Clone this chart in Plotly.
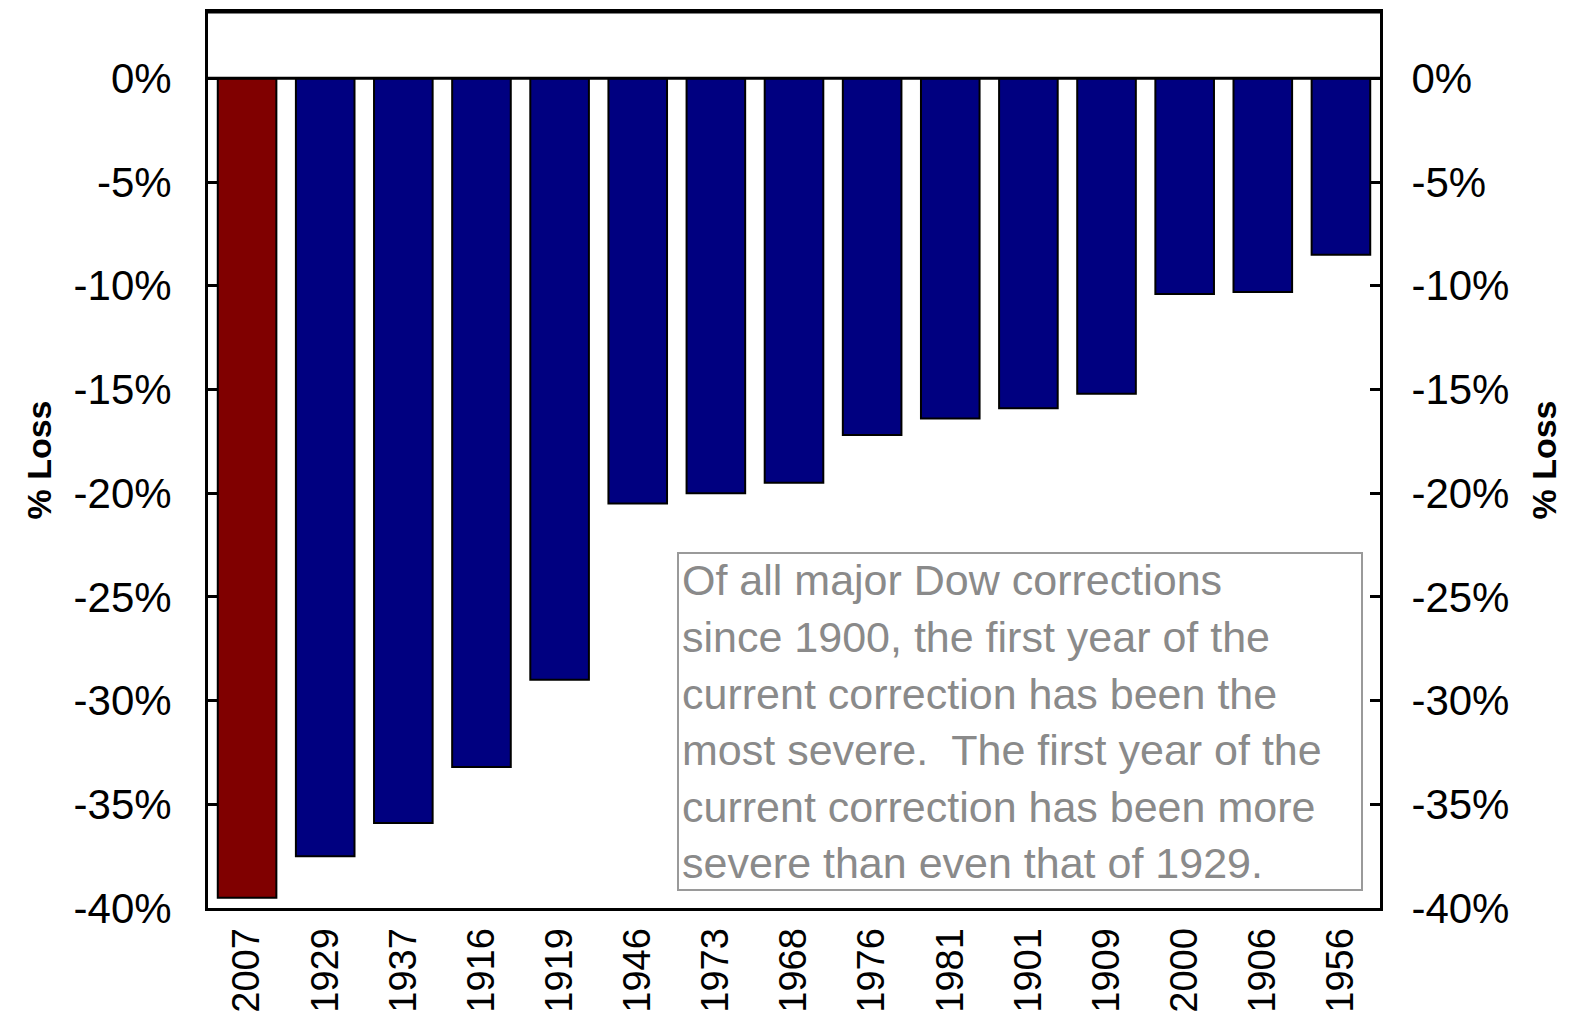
import plotly.graph_objects as go

years = ["2007", "1929", "1937", "1916", "1919", "1946", "1973", "1968",
         "1976", "1981", "1901", "1909", "2000", "1906", "1956"]
loss = [-39.5, -37.5, -35.9, -33.2, -29.0, -20.5, -20.0, -19.5,
        -17.2, -16.4, -15.9, -15.2, -10.4, -10.3, -8.5]
tick_vals = [0, -5, -10, -15, -20, -25, -30, -35, -40]
tick_text = ["0%", "-5%", "-10%", "-15%", "-20%", "-25%", "-30%", "-35%", "-40%"]
note_lines = [
    "Of all major Dow corrections",
    "since 1900, the first year of the",
    "current correction has been the",
    "most severe.  The first year of the",
    "current correction has been more",
    "severe than even that of 1929.",
]

W, H = 1569, 1029
L, R, T, B = 208, 1380, 12, 908

def px(x):
    return (x - L) / (R - L)

def py(y):
    return (B - y) / (B - T)

colors = ["#800000"] + ["#000080"] * (len(years) - 1)

fig = go.Figure()
fig.add_trace(go.Bar(
    x=years, y=loss, marker=dict(color=colors, line=dict(color="black", width=2)),
    width=0.75, showlegend=False,
))
fig.add_trace(go.Scatter(x=years, y=loss, yaxis="y2", mode="lines",
                         line=dict(width=0), opacity=0, showlegend=False, hoverinfo="skip"))

font_axis = dict(family="Liberation Sans, Arial, sans-serif", size=42, color="black")
title_font = dict(family="Liberation Sans, Arial, sans-serif", size=34, color="black")
yaxis_common = dict(
    range=[-40, 3.2], tickvals=tick_vals, ticktext=tick_text,
    ticks="inside", ticklen=10, tickwidth=3, tickcolor="black",
    showgrid=False, zeroline=False, showline=True, linecolor="black", linewidth=3,
    tickfont=font_axis, automargin=False,
)

fig.update_layout(
    width=W, height=H,
    margin=dict(l=L, r=W - R, t=T, b=H - B),
    paper_bgcolor="white", plot_bgcolor="white",
    xaxis=dict(type="category", tickangle=-90, range=[-0.5, len(years) - 0.5],
               tickfont=dict(family="Liberation Sans, Arial, sans-serif", size=38, color="black"),
               ticks="", showline=True, linecolor="black", linewidth=3, mirror=True,
               ticklabelstandoff=2, automargin=False),
    yaxis=dict(**yaxis_common, side="left", ticklabelstandoff=25,
               title=dict(text="<b>% Loss</b>", standoff=12, font=title_font)),
    yaxis2=dict(**yaxis_common, side="right", overlaying="y", matches="y",
                ticklabelstandoff=20,
                title=dict(text="<b>% Loss</b>", standoff=24, font=title_font)),
    bargap=0.25,
)

# zero line and top border
fig.add_shape(type="line", xref="paper", yref="y", x0=0, x1=1, y0=0, y1=0,
              line=dict(color="black", width=3))
fig.add_shape(type="line", xref="paper", yref="paper", x0=0, x1=1, y0=1, y1=1,
              line=dict(color="black", width=3))

# note box
fig.add_shape(type="rect", xref="paper", yref="paper",
              x0=px(678), x1=px(1362), y0=py(890), y1=py(553),
              line=dict(color="#9a9a9a", width=2), fillcolor="white", layer="above")
line_y = [580, 637, 694, 750, 807, 863]
for txt, yy in zip(note_lines, line_y):
    fig.add_annotation(xref="paper", yref="paper", x=px(680), y=py(yy),
                       xanchor="left", yanchor="middle", text=txt, showarrow=False,
                       font=dict(family="Liberation Sans, Arial, sans-serif",
                                 size=43, color="#8a8a8a"))

fig.write_html("out.html", config={"displayModeBar": False},
               post_script="document.body.style.margin='0';")
